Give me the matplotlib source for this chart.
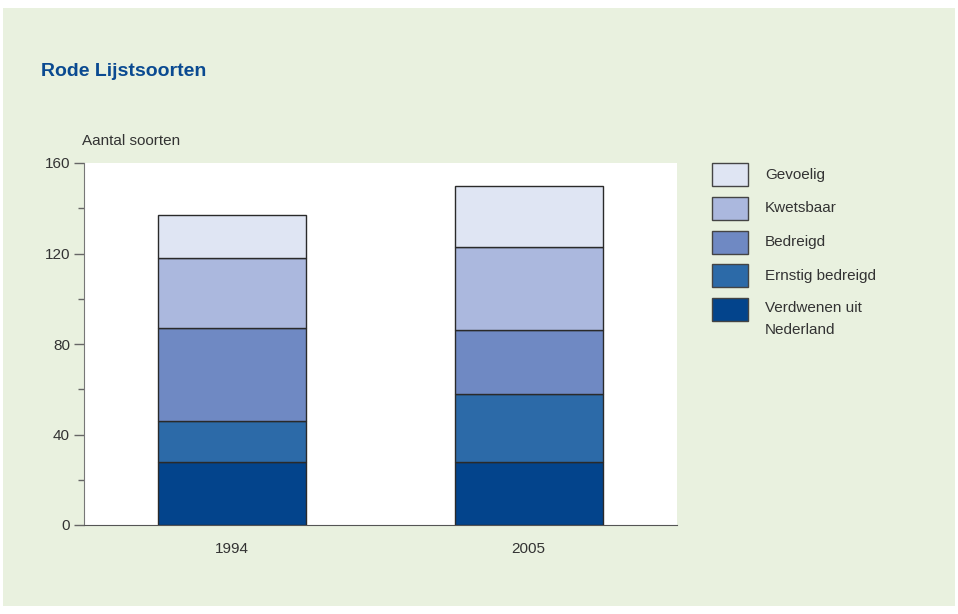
import matplotlib.pyplot as plt
import matplotlib.patches as mpatches
import numpy as np

plt.rcParams['font.family'] = ['Liberation Sans', 'DejaVu Sans']

years = ['1994', '2005']
categories = ['Verdwenen uit\nNederland', 'Ernstig bedreigd', 'Bedreigd', 'Kwetsbaar', 'Gevoelig']
verdwenen = [28, 28]
ernstig = [18, 30]
bedreigd = [41, 28]
kwetsbaar = [31, 37]
gevoelig = [19, 27]
series = [verdwenen, ernstig, bedreigd, kwetsbaar, gevoelig]
colors = ['#03448C', '#2C6AA8', '#6F89C3', '#ABB8DE', '#DFE5F3']

W, H = 958, 614
fig = plt.figure(figsize=(W / 100, H / 100), dpi=100)
fig.patch.set_facecolor('white')
# green panel behind everything
fig.patches.append(mpatches.Rectangle((3 / W, 8 / H), (955 - 3) / W, (606 - 8) / H,
                                      transform=fig.transFigure, facecolor='#E9F1DF',
                                      edgecolor='none', zorder=-5))

ax = fig.add_axes([84 / W, 1 - 525 / H, (677 - 84) / W, (525 - 163) / H])
ax.set_zorder(2)
ax.set_facecolor('white')

x = np.arange(len(years))
bottom = np.zeros(len(years))
for vals, col in zip(series, colors):
    ax.bar(x, vals, bottom=bottom, width=0.5, color=col, edgecolor='#2a2a2a', linewidth=1.0, zorder=3)
    bottom += np.array(vals)

ax.set_xlim(-0.5, 1.5)
ax.set_ylim(0, 160)
ax.set_yticks([0, 40, 80, 120, 160])
ax.set_yticks([20, 60, 100, 140], minor=True)
ax.set_xticks(x)
ax.set_xticklabels(years)
ax.tick_params(axis='x', length=0, pad=12, labelsize=11, labelcolor='#333333')
ax.tick_params(axis='y', which='major', length=7, width=1, color='#666666',
               labelsize=11, labelcolor='#333333', pad=3)
ax.tick_params(axis='y', which='minor', length=4, width=1, color='#666666')
for s in ['top', 'right']:
    ax.spines[s].set_visible(False)
ax.spines['left'].set_color('#777777')
ax.spines['bottom'].set_color('#555555')

fig.text(41 / W, 1 - 71 / H, 'Rode Lijstsoorten', fontsize=14, fontweight='bold',
         color='#0A4A91', va='center', ha='left')
fig.text(82 / W, 1 - 141 / H, 'Aantal soorten', fontsize=11, color='#333333',
         va='center', ha='left')

# legend, top to bottom
leg_labels = categories[::-1]
leg_colors = colors[::-1]
for i, (lab, col) in enumerate(zip(leg_labels, leg_colors)):
    ytop = 163 + i * 33.8
    fig.patches.append(mpatches.Rectangle((712 / W, 1 - (ytop + 23) / H), 36 / W, 23 / H,
                                          transform=fig.transFigure, facecolor=col,
                                          edgecolor='#444444', linewidth=1.0, zorder=3))
    if '\n' in lab:
        fig.text(765 / W, 1 - (ytop + 3) / H, lab, fontsize=11, color='#333333',
                 va='top', ha='left', linespacing=1.75)
    else:
        fig.text(765 / W, 1 - (ytop + 11.5) / H, lab, fontsize=11, color='#333333',
                 va='center', ha='left')

fig.savefig('out.png', dpi=100)
